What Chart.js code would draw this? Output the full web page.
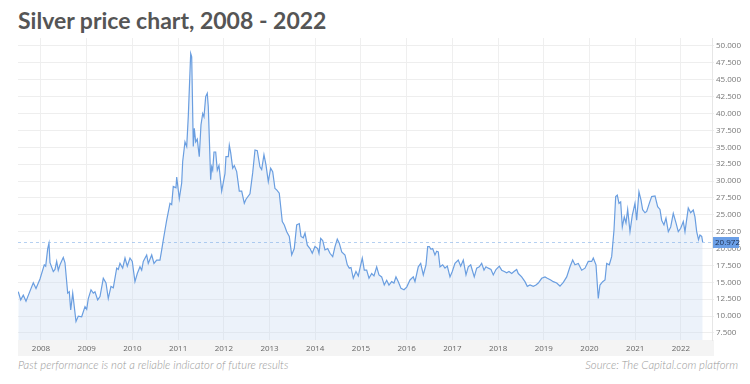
<!DOCTYPE html>
<html>
<head>
<meta charset="utf-8">
<script src="https://cdn.jsdelivr.net/npm/chart.js@4.4.0/dist/chart.umd.min.js"></script>
<style>
  html, body { margin: 0; padding: 0; background: #ffffff; width: 750px; height: 384px; overflow: hidden; }
  #title { position: absolute; left: 18px; top: 6px; font-family: "Lato", sans-serif; font-weight: 700; font-size: 23px; color: #555555; white-space: nowrap; }
  #chartBox { position: absolute; left: 18px; top: 38px; width: 724px; height: 318px; }
  .foot { position: absolute; top: 358px; font-family: "Lato", sans-serif; font-style: italic; font-weight: 300; font-size: 11.3px; color: #9a9a9a; white-space: nowrap; }
  #footL { left: 18px; }
  #footR { right: 12px; }
</style>
</head>
<body>
<div id="title">Silver price chart, 2008 - 2022</div>
<div id="chartBox"><canvas id="c" width="724" height="318"></canvas></div>
<div class="foot" id="footL">Past performance is not a reliable indicator of future results</div>
<div class="foot" id="footR">Source: The Capital.com platform</div>
<script>
const dates = [
2007.503,2007.556,2007.613,2007.672,2007.759,2007.832,2007.891,2007.978,
2008.072,2008.103,2008.147,2008.175,2008.197,2008.269,2008.306,2008.343,2008.378,2008.416,2008.488,2008.525,2008.584,2008.619,2008.650,2008.694,2008.766,2008.816,2008.890,2008.963,
2009.000,2009.035,2009.094,2009.144,2009.181,2009.240,2009.291,2009.363,2009.422,2009.472,2009.531,2009.582,2009.656,2009.691,2009.728,2009.787,2009.838,2009.888,2009.947,2009.997,
2010.056,2010.107,2010.166,2010.203,2010.238,2010.312,2010.347,2010.422,2010.472,2010.531,2010.603,2010.641,2010.676,2010.713,2010.750,2010.822,2010.859,2010.894,2010.953,2010.969,
2011.026,2011.078,2011.100,2011.150,2011.188,2011.222,2011.275,2011.297,2011.332,2011.354,2011.384,2011.419,2011.463,2011.500,2011.538,2011.566,2011.603,2011.638,2011.660,2011.712,2011.734,2011.756,2011.785,2011.822,2011.857,2011.894,2011.953,
2012.025,2012.047,2012.098,2012.120,2012.150,2012.194,2012.229,2012.281,2012.338,2012.391,2012.448,2012.485,2012.572,2012.631,2012.682,2012.732,2012.790,2012.828,2012.878,2012.922,2012.973,
2013.025,2013.069,2013.119,2013.156,2013.213,2013.279,2013.323,2013.376,2013.432,2013.485,2013.541,2013.594,2013.651,2013.688,2013.738,2013.776,2013.826,2013.885,2013.935,2013.994,
2014.053,2014.082,2014.119,2014.163,2014.213,2014.272,2014.322,2014.382,2014.432,2014.482,2014.526,2014.579,2014.651,2014.701,2014.745,2014.782,2014.832,2014.891,2014.942,2014.979,
2015.029,2015.073,2015.125,2015.176,2015.235,2015.285,2015.344,2015.394,2015.453,2015.510,2015.563,2015.613,2015.672,2015.722,2015.766,2015.817,2015.876,2015.941,
2016.001,2016.073,2016.145,2016.182,2016.254,2016.307,2016.364,2016.423,2016.460,2016.495,2016.532,2016.569,2016.619,2016.656,2016.692,2016.729,2016.788,2016.838,2016.889,2016.948,2016.998,
2017.057,2017.129,2017.182,2017.239,2017.298,2017.348,2017.401,2017.444,2017.479,2017.532,2017.589,2017.641,2017.692,2017.735,2017.786,2017.845,2017.895,2017.954,
2018.026,2018.079,2018.136,2018.188,2018.238,2018.298,2018.348,2018.407,2018.442,2018.516,2018.588,2018.639,2018.698,2018.770,2018.829,2018.880,2018.954,
2019.026,2019.077,2019.151,2019.208,2019.282,2019.354,2019.427,2019.501,2019.573,2019.632,2019.682,2019.755,2019.829,2019.901,2019.973,
2020.048,2020.083,2020.142,2020.192,2020.229,2020.288,2020.339,2020.376,2020.433,2020.485,2020.536,2020.573,2020.608,2020.645,2020.682,2020.718,2020.761,2020.798,2020.835,2020.886,2020.936,2020.995,
2021.032,2021.082,2021.126,2021.163,2021.214,2021.251,2021.308,2021.360,2021.433,2021.491,2021.542,2021.579,2021.629,2021.673,2021.724,2021.776,2021.833,2021.892,2021.942,2021.995,
2022.052,2022.089,2022.161,2022.213,2022.270,2022.307,2022.345,2022.385,2022.417,2022.455,2022.476
];
const prices = [
13.6,12.4,13.1,12.2,13.7,14.95,14.1,15.5,
17.6,17.4,20.0,20.8,17.9,16.6,16.9,18.1,16.8,17.6,18.7,17.9,13.4,13.6,10.9,13.4,9.2,10.0,9.9,11.4,
11.0,12.6,13.9,13.4,13.6,12.4,12.9,15.6,14.9,12.6,14.4,14.2,17.1,16.9,17.8,17.1,18.6,17.4,18.6,18.1,
15.1,16.3,17.3,16.8,18.1,19.05,17.8,19.05,17.8,18.3,18.3,19.8,21.3,22.75,24.2,26.7,26.5,29.2,29.0,30.6,
27.4,29.7,32.9,35.8,35.1,39.5,48.9,48.4,35.1,37.8,35.8,36.2,33.6,38.3,40.0,39.5,42.5,43.0,41.0,30.2,32.1,31.6,34.3,34.3,31.6,32.3,28.5,
31.1,33.6,33.6,35.3,34.2,31.9,32.3,31.4,28.5,28.5,26.7,27.3,28.1,31.2,34.6,34.5,32.1,31.7,33.9,32.4,29.9,
31.9,31.4,28.9,28.7,28.2,24.0,23.5,22.5,21.8,19.05,20.0,23.5,23.7,21.8,21.6,22.3,20.5,20.0,19.3,20.3,
20.0,19.3,21.5,21.2,19.8,20.0,19.3,18.8,20.3,21.4,20.8,19.5,19.05,17.6,17.1,17.2,15.6,16.6,15.95,17.1,
18.6,16.8,16.8,15.6,16.3,15.95,17.3,16.1,15.8,14.6,15.3,14.6,15.1,14.9,15.8,15.1,14.1,13.9,
14.3,15.35,15.8,15.1,17.3,17.8,16.1,17.6,20.3,20.3,19.9,20.0,19.05,19.6,19.5,17.3,17.6,17.1,17.4,15.8,16.6,
17.8,18.3,17.4,18.3,16.1,17.3,17.6,16.6,15.8,17.1,17.3,17.8,16.8,17.3,17.1,16.9,16.1,16.9,
17.4,16.8,16.6,16.4,16.6,16.3,16.6,16.9,16.3,15.8,15.1,14.4,14.6,14.4,14.6,14.9,15.6,
15.8,15.6,15.35,15.1,14.9,14.45,15.0,15.8,17.3,18.3,17.6,17.8,16.8,17.1,18.1,
18.1,18.6,17.6,12.6,14.6,15.1,15.35,17.8,17.6,18.8,22.75,27.7,27.9,26.7,26.9,23.2,24.7,23.8,25.8,22.5,24.9,26.7,
24.2,28.4,27.2,25.75,25.3,25.5,26.7,27.7,27.8,26.2,25.8,24.2,23.5,24.5,22.5,23.2,25.2,23.8,22.5,23.0,
24.0,22.5,26.0,25.3,25.7,24.7,22.5,21.3,22.0,21.8,20.972
];
const xTickYears = [2008,2009,2010,2011,2012,2013,2014,2015,2016,2017,2018,2019,2020,2021,2022];
const yTickValues = [7.5,10,12.5,15,17.5,20,22.5,25,27.5,30,32.5,35,37.5,40,42.5,45,47.5,50];

const points = dates.map((d, i) => ({ x: d, y: prices[i] }));
const lastPrice = prices[prices.length - 1];

const decorPlugin = {
  id: 'decor',
  beforeDraw(chart) {
    const { ctx, chartArea: a } = chart;
    ctx.save();
    ctx.fillStyle = '#f4f4f4';
    ctx.fillRect(a.left, a.bottom, a.right - a.left + 2, 16);
    ctx.restore();
  },
  afterDatasetsDraw(chart) {
    const { ctx, chartArea: a, scales } = chart;
    const y = Math.round(scales.y.getPixelForValue(lastPrice)) + 0.5;
    ctx.save();
    ctx.strokeStyle = 'rgba(120,170,230,0.55)';
    ctx.lineWidth = 1;
    ctx.setLineDash([3, 3]);
    ctx.beginPath();
    ctx.moveTo(a.left, y);
    ctx.lineTo(a.right + 2, y);
    ctx.stroke();
    ctx.setLineDash([]);
    ctx.fillStyle = '#6b9fe6';
    ctx.fillRect(a.right + 1, y - 5.5, 26, 11);
    ctx.fillStyle = '#1c2d4d';
    ctx.font = '8px "Open Sans"';
    ctx.textBaseline = 'middle';
    ctx.textAlign = 'left';
    ctx.fillText(lastPrice.toFixed(3), a.right + 3, y + 0.5);
    ctx.restore();
  }
};

new Chart(document.getElementById('c'), {
  type: 'line',
  data: {
    datasets: [{
      data: points,
      borderColor: '#6a9ee0',
      borderWidth: 1.2,
      backgroundColor: 'rgba(200,218,240,0.35)',
      fill: 'start',
      pointRadius: 0,
      tension: 0
    }]
  },
  options: {
    responsive: false,
    devicePixelRatio: 1,
    animation: false,
    layout: { padding: 0 },
    plugins: { legend: { display: false }, tooltip: { enabled: false } },
    scales: {
      x: {
        type: 'linear',
        position: 'bottom',
        min: 2007.497,
        max: 2022.68,
        afterBuildTicks: (axis) => { axis.ticks = xTickYears.map(v => ({ value: v })); },
        afterFit: (axis) => { axis.height = 16; axis.paddingLeft = 0; axis.paddingRight = 0; },
        grid: { color: '#efefef', drawTicks: false },
        border: { display: false },
        ticks: {
          autoSkip: false, maxRotation: 0, padding: 4,
          color: '#666666',
          font: { family: 'Open Sans', size: 8 },
          callback: (v) => String(v)
        }
      },
      y: {
        type: 'linear',
        position: 'right',
        min: 6.46,
        max: 51.18,
        afterBuildTicks: (axis) => { axis.ticks = yTickValues.map(v => ({ value: v })); },
        afterFit: (axis) => { axis.width = 30; axis.paddingTop = 0; axis.paddingBottom = 0; },
        grid: { color: '#eeeeee', tickLength: 2 },
        border: { display: true, color: '#e6e6e6' },
        ticks: {
          padding: 2,
          color: '#777777',
          font: { family: 'Open Sans', size: 8 },
          callback: (v) => Number(v).toFixed(3)
        }
      }
    }
  },
  plugins: [decorPlugin]
});
</script>
</body>
</html>
